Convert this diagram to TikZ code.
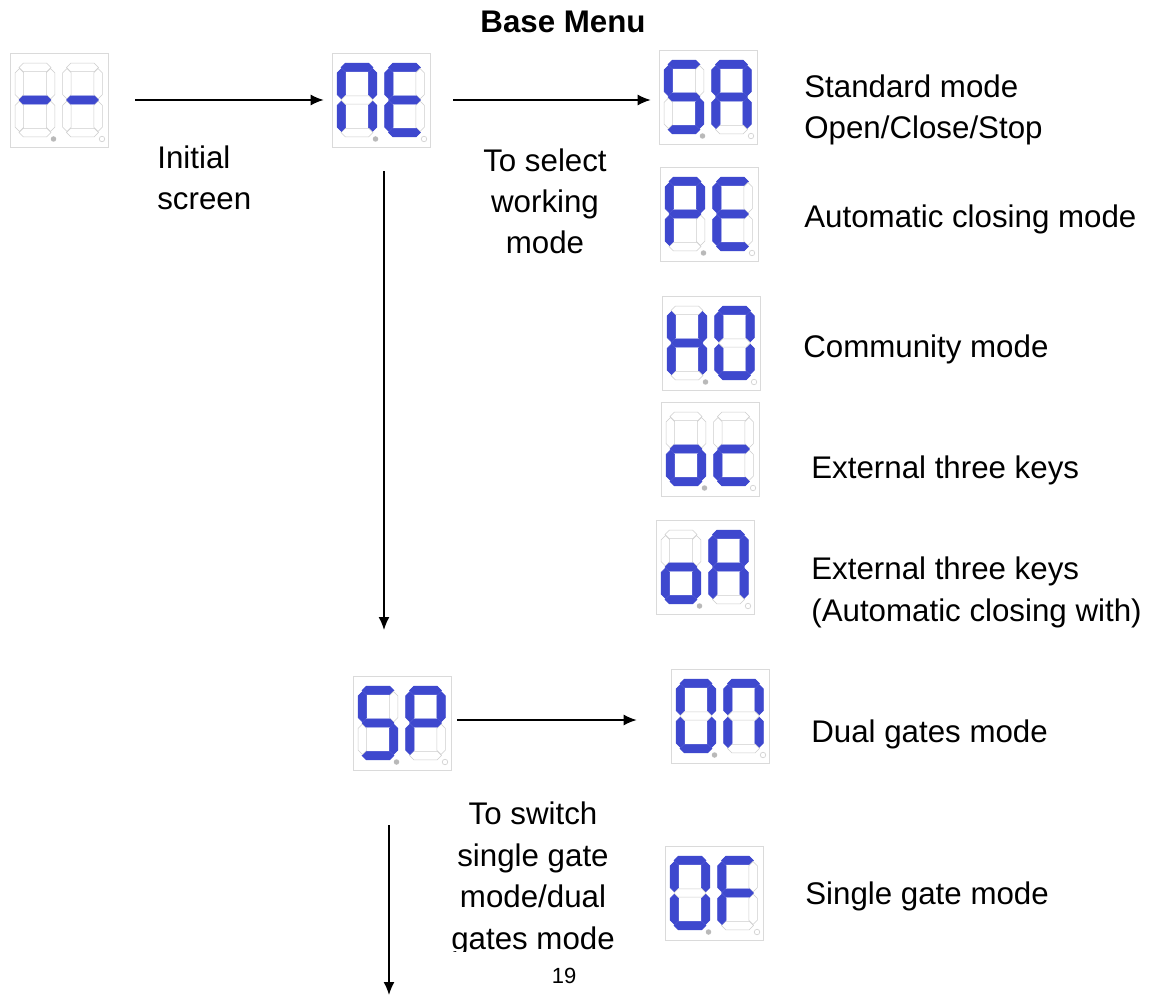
\documentclass[tikz,border=0pt]{standalone}
\usepackage{fontspec}
\setmainfont{Liberation Sans}
\usetikzlibrary{arrows.meta, positioning, calc}
\definecolor{segblue}{RGB}{62,72,206}
\definecolor{segoff}{RGB}{205,205,205}
\definecolor{framegray}{RGB}{218,218,218}
\tikzset{
  disp/.style  = {draw=framegray, fill=white, minimum width=19.6mm,
                  minimum height=18.8mm, inner sep=0pt},
  arrow/.style = {-{Latex[length=2.6mm, width=2.2mm]}, line width=0.3mm},
  lbl/.style   = {font=\fontsize{17.8}{23.6}\selectfont, inner sep=0pt},
}
% one segment, horizontal or vertical, centred at (#1,#2)
\newcommand{\hseg}[2]{\filldraw[fill=\fc, draw=\dc, line width=0.3pt]
  (#1-16,#2)--(#1-11.8,#2-4.2)--(#1+11.8,#2-4.2)--(#1+16,#2)--(#1+11.8,#2+4.2)--(#1-11.8,#2+4.2)--cycle;}
\newcommand{\vseg}[2]{\filldraw[fill=\fc, draw=\dc, line width=0.3pt]
  (#1,#2-15.2)--(#1+4.2,#2-11)--(#1+4.2,#2+11)--(#1,#2+15.2)--(#1-4.2,#2+11)--(#1-4.2,#2-11)--cycle;}
% a digit: #1 top left corner, #2 segments a,b,c,d,e,f,g as 1/0
\newcommand{\sevseg}[2]{%
  \begin{scope}[shift={#1}]
    \foreach \s [count=\k] in {#2} {
      \ifnum\s=1 \def\fc{segblue}\def\dc{segblue}\else\def\fc{white}\def\dc{segoff}\fi
      \ifcase\k\or\hseg{20}{4.4}\or\vseg{35.6}{20.7}\or\vseg{35.6}{53.3}\or
        \hseg{20}{69.6}\or\vseg{4.4}{53.3}\or\vseg{4.4}{20.7}\or\hseg{20}{37}\fi
    }
  \end{scope}}
% a two digit display: #1 name, #2 position, #3 left digit, #4 right digit
\newcommand{\display}[4]{%
  \node[disp] (#1) at #2 {};
  \sevseg{($(#1.center)+(-44,-37)$)}{#3}
  \sevseg{($(#1.center)+(3.5,-37)$)}{#4}
  \fill[gray!55] ($(#1.center)+(-5.5,39)$) circle (0.55mm);
  \filldraw[draw=gray!35, fill=white] ($(#1.center)+(43,39)$) circle (0.55mm);}

\begin{document}
\begin{tikzpicture}[x=0.2mm, y=-0.2mm]
  \useasboundingbox (0,0) rectangle (1159,999);
  % displays
  \display{dash}{(59,100)}{0,0,0,0,0,0,1}{0,0,0,0,0,0,1}
  \display{ne}{(381,100)}{1,1,1,0,1,1,0}{1,0,0,1,1,1,1}
  \display{sa}{(708,97)}{1,0,1,1,0,1,1}{1,1,1,0,1,1,1}
  \display{pe}{(709,214)}{1,1,0,0,1,1,1}{1,0,0,1,1,1,1}
  \display{ho}{(711,343)}{0,1,1,0,1,1,1}{1,1,1,1,1,1,0}
  \display{oc}{(710,449)}{0,0,1,1,1,0,1}{0,0,0,1,1,0,1}
  \display{oa}{(705,567)}{0,0,1,1,1,0,1}{1,1,1,0,1,1,1}
  \display{sp}{(402,723)}{1,0,1,1,0,1,1}{1,1,0,0,1,1,1}
  \display{on}{(720,716)}{1,1,1,1,1,1,0}{1,1,1,0,1,1,0}
  \display{of}{(714,893)}{1,1,1,1,1,1,0}{1,0,0,0,1,1,1}
  \coordinate (down1) at (384,630);
  \coordinate (down2) at (389,995);
  % arrows
  \draw[arrow, shorten <=5.4mm, shorten >=1.6mm] (dash.east) -- (dash.east -| ne.west);
  \draw[arrow, shorten <=4.6mm, shorten >=1.6mm] (ne.east) -- (ne.east -| sa.west);
  \draw[arrow, shorten <=4.8mm] (down1 |- ne.south) -- (down1);
  \draw[arrow, shorten <=1.2mm, shorten >=6.8mm] ($(sp.east)+(0,-3)$) -- ($(sp.east -| on.west)+(0,-3)$);
  \draw[arrow, shorten <=11mm] (down2 |- sp.south) -- (down2);
  % labels (multi line nodes sit on their last baseline)
  \node[lbl, font=\fontsize{17.8}{23.6}\selectfont\bfseries, anchor=base] (title) at (563,33) {Base Menu};
  \node[lbl, anchor=base west, align=left] (initial) at (157,210) {Initial\\screen};
  \node[lbl, anchor=base, align=center] (select) at (545,254) {To select\\working\\mode};
  \node[lbl, anchor=base west, align=left] (tsa) at (804,139) {Standard mode\\Open/Close/Stop};
  \node[lbl, anchor=base west] (tpe) at (804,228) {Automatic closing mode};
  \node[lbl, anchor=base west] (tho) at (803,358) {Community mode};
  \node[lbl, anchor=base west] (toc) at (811,478) {External three keys};
  \node[lbl, anchor=base west, align=left] (toa) at (811,621) {External three keys\\(Automatic closing with)};
  \node[lbl, anchor=base west] (ton) at (811,742) {Dual gates mode};
  \node[lbl, anchor=base west] (tof) at (805,904) {Single gate mode};
  \begin{scope}
    \clip (430,780) rectangle (650,951);
    \node[lbl, anchor=base, align=center] (switch) at (533,949) {To switch\\single gate\\mode/dual\\gates mode};
  \end{scope}
  \node[font=\fontsize{12.5}{15}\selectfont, inner sep=0pt, anchor=base] (pagenum) at (564,983) {19};
\end{tikzpicture}
\end{document}
